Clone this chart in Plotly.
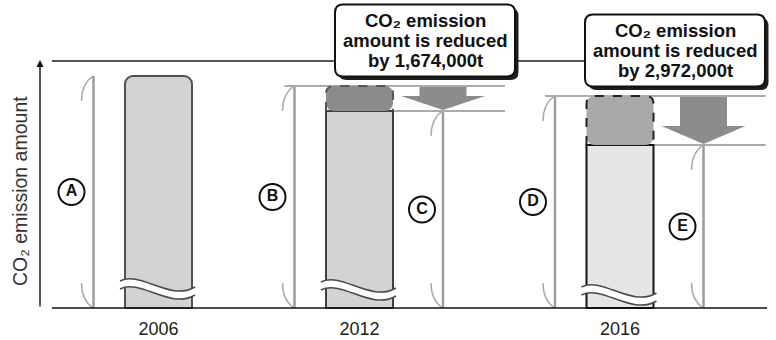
import plotly.graph_objects as go

# ---------------- data (schematic, axis broken) ----------------
years = ["2006", "2012", "2016"]
emission_before = [232, 222, 212]          # relative bar heights before reduction
reduction = [0, 25, 49]                    # relative reduction amounts
reduction_labels = ["", "1,674,000t", "2,972,000t"]
dimension_labels_left = ["A", "B", "D"]    # full height of each year
dimension_labels_right = ["", "C", "E"]    # height after reduction
y_title = "CO₂ emission amount"
box_lines = ["CO₂ emission", "amount is reduced", "by {}"]

remaining = [b - r for b, r in zip(emission_before, reduction)]

# ---------------- layout / style ----------------
W, H = 776, 340
bar_x = [158.5, 359.5, 620]
bar_w = 67
left_dim_off = -65
right_dim_off = 83.5
box_cx = [None, 425, 675]
box_w, box_h, box_gap = 180, 72, 9.5
wave_y = [23, 22, 17]
corner_r = 8

FONT = "Liberation Sans, Arial, Helvetica, sans-serif"
bar_fill = ["#d3d3d5", "#d3d3d5", "#e6e6e8"]
bar_line = ["#505050", "#404040", "#151515"]
red_fill = ["#8b8b8d", "#8b8b8d", "#a9a9ab"]
red_dash = ["#555555", "#555555", "#222222"]
dim_color = "#9c9c9c"
arc_color = "#ababab"
ref_color = "#ababab"
arrow_color = "#8c8c8e"

fig = go.Figure()
shapes = []


def line(x0, y0, x1, y1, color, width, layer="below", dash=None):
    d = dict(type="line", xref="x", yref="y", x0=x0, y0=y0, x1=x1, y1=y1,
             line=dict(color=color, width=width), layer=layer)
    if dash:
        d["line"]["dash"] = dash
    shapes.append(d)


def path(p, fill=None, color=None, width=0, layer="below", dash=None):
    d = dict(type="path", xref="x", yref="y", path=p, layer=layer,
             line=dict(color=color or "rgba(0,0,0,0)", width=width))
    if fill:
        d["fillcolor"] = fill
    if dash:
        d["line"]["dash"] = dash
    shapes.append(d)


def rrect(x0, y0, x1, y1, r):
    return (f"M{x0+r},{y0} L{x1-r},{y0} Q{x1},{y0} {x1},{y0+r} L{x1},{y1-r} "
            f"Q{x1},{y1} {x1-r},{y1} L{x0+r},{y1} Q{x0},{y1} {x0},{y1-r} "
            f"L{x0},{y0+r} Q{x0},{y0} {x0+r},{y0} Z")


def dimension(x, top):
    line(x, 0, x, top, dim_color, 2.5)
    path(f"M{x-0.5},{top} Q{x-12},{top-8} {x-12},{top-25}", color=arc_color, width=1.5)
    path(f"M{x-0.5},{0} Q{x-12},{8} {x-12},{25}", color=arc_color, width=1.5)


# ---------------- bars ----------------
fig.add_trace(go.Bar(
    x=[bar_x[0]], y=[remaining[0]], width=bar_w,
    marker=dict(color=bar_fill[0], line=dict(color=bar_line[0], width=2),
                cornerradius=corner_r),
    hoverinfo="skip", showlegend=False))
fig.add_trace(go.Bar(
    x=bar_x[1:], y=remaining[1:], width=bar_w,
    marker=dict(color=bar_fill[1:], line=dict(color=bar_line[1:], width=2),
                cornerradius=0),
    hoverinfo="skip", showlegend=False))
fig.add_trace(go.Bar(
    x=bar_x[1:], y=reduction[1:], base=remaining[1:], width=bar_w,
    marker=dict(color=red_fill[1:], line=dict(width=0), cornerradius=corner_r),
    hoverinfo="skip", showlegend=False))

for i in (1, 2):
    x0, x1 = bar_x[i] - bar_w / 2, bar_x[i] + bar_w / 2
    t, b, r = emission_before[i], remaining[i], corner_r
    path(f"M{x0},{b} L{x0},{t-r} Q{x0},{t} {x0+r},{t} L{x1-r},{t} "
         f"Q{x1},{t} {x1},{t-r} L{x1},{b}",
         color=red_dash[i], width=2, layer="above", dash="dash")

# axis-break waves
for i in range(3):
    x0, x1 = bar_x[i] - bar_w / 2, bar_x[i] + bar_w / 2
    yb = wave_y[i]
    top = f"M{x0-5},{yb+4} C{x0+15},{yb+15} {x0+45},{yb-17} {x1+3},{yb-2}"
    bot = f"M{x0-5},{yb-4} C{x0+15},{yb+7} {x0+45},{yb-25} {x1+3},{yb-10}"
    fill = (f"M{x0-5},{yb+4} C{x0+15},{yb+15} {x0+45},{yb-17} {x1+3},{yb-2} "
            f"L{x1+3},{yb-10} C{x0+45},{yb-25} {x0+15},{yb+7} {x0-5},{yb-4} Z")
    path(fill, fill="white", layer="above")
    path(top, color="#4a4a4a", width=1.5, layer="above")
    path(bot, color="#4a4a4a", width=1.5, layer="above")

# ---------------- dimension lines, reference lines, arrows ----------------
for i in range(3):
    xl = bar_x[i] + left_dim_off
    dimension(xl, emission_before[i])
    if reduction[i] > 0:
        xr = bar_x[i] + right_dim_off
        dimension(xr, remaining[i])
        line(xl - 10, emission_before[i], xr + 62, emission_before[i], ref_color, 2)
        line(bar_x[i] + bar_w / 2, remaining[i], xr + 62, remaining[i], ref_color, 2)
        span = reduction[i]
        head = min(19, span * 0.6)
        t = emission_before[i] - 1
        s = remaining[i] + head
        tip = remaining[i] + 1
        path(f"M{xr-23.5},{t} L{xr+23.5},{t} L{xr+23.5},{s} L{xr+42},{s} "
             f"L{xr},{tip} L{xr-42},{s} L{xr-23.5},{s} Z",
             fill=arrow_color, layer="below")

top_line_y = max(emission_before) + 15
line(52, top_line_y, box_cx[2] - box_w / 2, top_line_y, "#555555", 2)

line(52, 0, 767, 0, "#111111", 1.5, layer="above")

# ---------------- callout boxes ----------------
annotations = []
for i in (1, 2):
    x0 = box_cx[i] - box_w / 2
    x1 = box_cx[i] + box_w / 2
    y0 = emission_before[i] + box_gap
    y1 = y0 + box_h
    path(rrect(x0 + 3.5, y0 - 3.5, x1 + 3.5, y1 - 3.5, 8), fill="#1e1e1e", layer="above")
    path(rrect(x0, y0, x1, y1, 8), fill="white", color="#111111", width=2, layer="above")
    yc = (y0 + y1) / 2
    for k, txt in enumerate(box_lines):
        annotations.append(dict(
            x=box_cx[i], y=yc + 20 - 20 * k, xref="x", yref="y", showarrow=False,
            text=f"<b>{txt.format(reduction_labels[i])}</b>",
            font=dict(family=FONT, size=18.5, color="#111111"), align="center"))

# ---------------- circle labels ----------------
cx, cy, ct = [], [], []
for i in range(3):
    xl = bar_x[i] + left_dim_off
    cx.append(xl - 22)
    cy.append(emission_before[i] / 2)
    ct.append(dimension_labels_left[i])
    if reduction[i] > 0:
        xr = bar_x[i] + right_dim_off
        cx.append(xr - 21)
        cy.append(remaining[i] / 2)
        ct.append(dimension_labels_right[i])
fig.add_trace(go.Scatter(
    x=cx, y=cy, text=ct, mode="markers+text", textposition="middle center",
    marker=dict(size=26, color="white", line=dict(color="#111111", width=2)),
    textfont=dict(family=FONT, size=16, color="#111111", weight="bold"),
    hoverinfo="skip", showlegend=False, cliponaxis=False))

annotations.append(dict(x=40, y=top_line_y + 1, ax=40, ay=0, xref="x", yref="y",
                        axref="x", ayref="y", showarrow=True, arrowhead=2,
                        arrowsize=1, arrowwidth=1.4, arrowcolor="#111111", text=""))
annotations.append(dict(x=20, y=117, xref="x", yref="y", showarrow=False,
                        text=y_title, textangle=-90,
                        font=dict(family=FONT, size=19.5, color="#333333")))

fig.update_layout(
    width=W, height=H, margin=dict(l=0, r=0, t=0, b=30),
    paper_bgcolor="white", plot_bgcolor="white", barmode="overlay",
    shapes=shapes, annotations=annotations,
    xaxis=dict(range=[0, W], tickmode="array", tickvals=bar_x, ticktext=years,
               tickfont=dict(family=FONT, size=18, color="#222222"),
               showgrid=False, zeroline=False, showline=False, ticks="",
               ticklabelstandoff=6, fixedrange=True),
    yaxis=dict(range=[-2, 308], showgrid=False, zeroline=False, showline=False,
               showticklabels=False, ticks="", fixedrange=True),
    showlegend=False,
)

fig.write_html("out.html")
